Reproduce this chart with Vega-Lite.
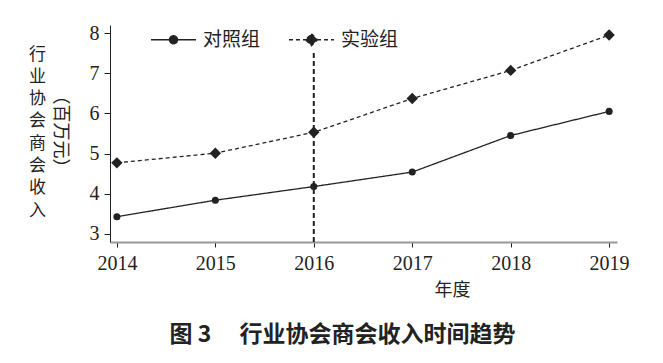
{
  "$schema": "https://vega.github.io/schema/vega-lite/v6.json",
  "width": 507,
  "height": 217,
  "autosize": {"type": "none"},
  "padding": {"left": 110, "top": 25, "right": 46, "bottom": 121},
  "background": "white",
  "config": {"view": {"stroke": null}, "axis": {"grid": false}},
  "title": {
    "text": "图 3　 行业协会商会收入时间趋势",
    "orient": "bottom",
    "anchor": "middle",
    "frame": "group",
    "font": "Noto Sans CJK SC",
    "fontSize": 23,
    "fontWeight": "bold",
    "color": "#222",
    "offset": 25,
    "dx": -21
  },
  "data": {
    "values": [
      {"year": 2014, "group": "对照组", "v": 3.43},
      {"year": 2015, "group": "对照组", "v": 3.84},
      {"year": 2016, "group": "对照组", "v": 4.18},
      {"year": 2017, "group": "对照组", "v": 4.54},
      {"year": 2018, "group": "对照组", "v": 5.45},
      {"year": 2019, "group": "对照组", "v": 6.05},
      {"year": 2014, "group": "实验组", "v": 4.77},
      {"year": 2015, "group": "实验组", "v": 5.01},
      {"year": 2016, "group": "实验组", "v": 5.53},
      {"year": 2017, "group": "实验组", "v": 6.37},
      {"year": 2018, "group": "实验组", "v": 7.07},
      {"year": 2019, "group": "实验组", "v": 7.95}
    ]
  },
  "layer": [
    {
      "layer": [
        {
          "mark": {"type": "line", "color": "#222", "strokeWidth": 1.3},
          "encoding": {
            "x": {
              "field": "year", "type": "quantitative",
              "scale": {"domain": [2013.93, 2019.08], "nice": false, "zero": false},
              "axis": {
                "values": [2014, 2015, 2016, 2017, 2018, 2019],
                "format": "d",
                "title": "年度",
                "titleX": 342, "titleY": 48,
                "titleAlign": "center", "titleBaseline": "middle",
                "titleFont": "Noto Sans CJK SC", "titleFontSize": 18, "titleFontWeight": "normal", "titleColor": "#222",
                "labelFont": "Liberation Serif", "labelFontSize": 20, "labelColor": "#222",
                "labelFlush": false, "labelOverlap": false,
                "tickSize": 5, "tickColor": "#222",
                "domainColor": "#999", "domainWidth": 2,
                "labelPadding": 6
              }
            },
            "y": {
              "field": "v", "type": "quantitative",
              "scale": {"domain": [2.8, 8.2], "nice": false, "zero": false},
              "axis": {
                "values": [3, 4, 5, 6, 7, 8],
                "title": ["行", "业", "协", "会", "商", "会", "收", "入"],
                "titleAngle": 0, "titleX": -73, "titleY": 21,
                "titleAlign": "center", "titleBaseline": "top",
                "titleFont": "Noto Sans CJK SC", "titleFontSize": 17, "titleFontWeight": "normal",
                "titleLineHeight": 22.3, "titleColor": "#222",
                "labelFont": "Liberation Serif", "labelFontSize": 20, "labelColor": "#222",
                "tickSize": 6, "tickColor": "#222", "domainColor": "#222",
                "labelPadding": 5
              }
            },
            "strokeDash": {
              "field": "group", "type": "nominal",
              "scale": {"domain": ["对照组", "实验组"], "range": [[1, 0], [4, 3]]},
              "legend": {
                "orient": "none", "legendX": 40, "legendY": -9,
                "direction": "horizontal", "title": null,
                "labelFont": "Noto Sans CJK SC", "labelFontSize": 19, "labelColor": "#222",
                "symbolSize": 2025, "symbolStrokeWidth": 1.3, "symbolStrokeColor": "#222",
                "columnPadding": 25, "labelOffset": 6,
                "encode": {
                  "symbols": {
                    "update": {
                      "shape": [
                        {"test": "datum.value === '实验组'", "value": "M-1,0H1M0,-0.27L0.27,0L0,0.27L-0.27,0Z"},
                        {"value": "M-1,0H1M-0.18,0A0.18,0.18,0,1,1,0.18,0A0.18,0.18,0,1,1,-0.18,0Z"}
                      ],
                      "fill": {"value": "#222"},
                      "fillOpacity": {"value": 1},
                      "stroke": {"value": "#222"},
                      "strokeWidth": {"value": 1.3},
                      "strokeOpacity": {"value": 1},
                      "opacity": {"value": 1}
                    }
                  }
                }
              }
            }
          }
        },
        {
          "mark": {"type": "point", "filled": true, "color": "#222", "opacity": 1},
          "encoding": {
            "x": {"field": "year", "type": "quantitative"},
            "y": {"field": "v", "type": "quantitative"},
            "shape": {"condition": {"test": "datum.group === '实验组'", "value": "diamond"}, "value": "circle"},
            "size": {"condition": {"test": "datum.group === '实验组'", "value": 130}, "value": 50}
          }
        }
      ]
    },
    {
      "data": {"values": [{"year": 2016, "lo": 2.8, "hi": 7.53}]},
      "mark": {"type": "rule", "color": "#222", "strokeWidth": 2, "strokeDash": [5, 3]},
      "encoding": {
        "x": {"field": "year", "type": "quantitative"},
        "y": {
          "field": "lo", "type": "quantitative",
          "scale": {"domain": [2.8, 8.2], "nice": false, "zero": false},
          "axis": {
            "orient": "right", "labels": false, "ticks": false, "domain": false,
            "title": "（百万元）", "titleAngle": 90,
            "titleX": -558, "titleY": 106,
            "titleAlign": "center", "titleBaseline": "middle",
            "titleFont": "Noto Sans CJK SC", "titleFontSize": 18, "titleFontWeight": "normal", "titleColor": "#222"
          }
        },
        "y2": {"field": "hi"}
      }
    }
  ],
  "resolve": {"scale": {"y": "independent"}}
}
